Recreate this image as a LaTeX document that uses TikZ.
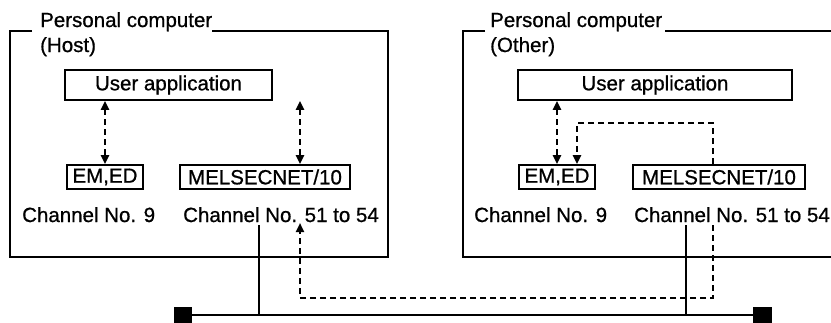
\documentclass[tikz,border=0pt]{standalone}
\usepackage{fontspec}
\setmainfont[FakeBold=0.8]{Liberation Sans}
\usetikzlibrary{arrows.meta}
\tikzset{
    >={Triangle[length=9pt, width=8pt]},
    txt/.style={font=\fontsize{20.5}{24}\selectfont},
    box/.style={txt, draw, line width=1.8pt, inner sep=0pt, minimum height=24pt},
    lbl/.style={txt, inner sep=0pt, anchor=base west},
    frame/.style={line width=2.2pt},
    link/.style={line width=2.2pt, dash pattern=on 6pt off 4pt}
}

\begin{document}
\begin{tikzpicture}[x=1pt, y=-1pt]
	\useasboundingbox (0,0) rectangle (831,322);
	
	% Cadre du PC hôte
	\draw[frame] (32,31) -- (10,31) -- (10,257) -- (388,257) -- (388,31) -- (212,31);
	\node[lbl] (pcL) at (40,27) {Personal computer};
	\node[lbl] (hostL) at (40,52) {(Host)};
	
	% Cadre de l'autre PC
	\draw[frame] (485,31) -- (463,31) -- (463,257) -- (840,257);
	\draw[frame] (665,31) -- (840,31);
	\node[lbl] (pcR) at (490,27) {Personal computer};
	\node[lbl] (otherR) at (490,52) {(Other)};
	
	% Boîtes
	\node[box, minimum width=207pt, minimum height=30pt] (userL) at (168.5,85) {User application};
	\node[box, minimum width=76pt] (emL) at (105,177) {EM,ED};
	\node[box, minimum width=170pt] (netL) at (265,177) {MELSECNET/10};
	\node[box, minimum width=274pt, minimum height=30pt] (userR) at (655,85) {User application};
	\node[box, minimum width=76pt] (emR) at (557,177) {EM,ED};
	\node[box, minimum width=172pt] (netR) at (719,177) {MELSECNET/10};
	
	\node[lbl] (chL9) at (22,222) {Channel No. 9};
	\node[lbl] (chL51) at (183,222) {Channel No. 51 to 54};
	\node[lbl] (chR9) at (474,222) {Channel No. 9};
	\node[lbl] (chR51) at (634,222) {Channel No. 51 to 54};
	
	% Liaisons internes
	\coordinate (armL) at (300,0);
	\draw[link, <->] (userL.south -| emL.north) -- (emL.north);
	\draw[link, <->] (userL.south -| armL) -- (netL.north -| armL);
	\draw[link, <->] (userR.south -| emR.north) -- (emR.north);
	
	% Réseau
	\coordinate (tapL) at (259,225);
	\coordinate (tapR) at (686,225);
	\coordinate (busL) at (192,315);
	\coordinate (busR) at (753,315);
	\fill (174,307) rectangle (192,325);
	\fill (753,307) rectangle (772,325);
	\draw[frame] (busL) -- (busR);
	\draw[frame] (tapL) -- (tapL |- busL);
	\draw[frame] (tapR) -- (tapR |- busR);
	
	% Chemin en pointillés
	\coordinate (upR) at (713,225);
	\coordinate (downR) at (577,123);
	\draw[link, ->] (netR.north -| upR) -- (upR |- downR) -- (downR) -- (downR |- emR.north);
	\draw[link, ->] (upR) -- (713,298) -- (300,298) -- (300,223);
\end{tikzpicture}
\end{document}
